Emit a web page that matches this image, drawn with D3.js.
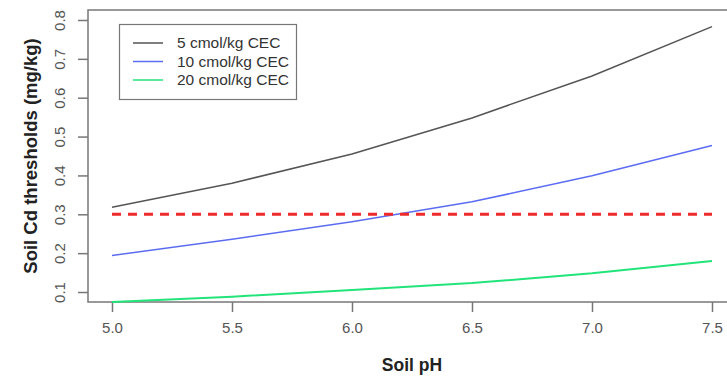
<!DOCTYPE html>
<html>
<head>
<meta charset="utf-8">
<script src="https://cdn.jsdelivr.net/npm/d3@7"></script>
<style>
  body { margin: 0; background: #fff; }
  svg { display: block; font-family: "Liberation Sans", Arial, sans-serif; }
</style>
</head>
<body>
<script>
// soil pH values along x
const ph = [5.0, 5.5, 6.0, 6.5, 7.0, 7.5];

// Cd thresholds for each CEC level
const cec5 = [0.318, 0.380, 0.455, 0.548, 0.656, 0.783];
const cec10 = [0.194, 0.236, 0.281, 0.332, 0.399, 0.477];
const cec20 = [0.074, 0.088, 0.105, 0.123, 0.148, 0.180];

const seriesNames = ["5 cmol/kg CEC", "10 cmol/kg CEC", "20 cmol/kg CEC"];
const seriesColors = ["#555555", "#5b6cf2", "#22e47a"];
const limitValue = 0.3;

const xTicks = [5.0, 5.5, 6.0, 6.5, 7.0, 7.5];
const yTicks = [0.1, 0.2, 0.3, 0.4, 0.5, 0.6, 0.7, 0.8];

const width = 727, height = 382;

const svg = d3.select("body").append("svg")
    .attr("width", width)
    .attr("height", height);

const x = d3.scaleLinear().domain([4.9, 7.6]).range([88, 736]);
const y = d3.scaleLinear().domain([0.0743, 0.8257]).range([302, 10]);

const axisColor = "#777";

// plot frame
svg.append("rect")
    .attr("x", x(4.9))
    .attr("y", y(0.8257))
    .attr("width", x(7.6) - x(4.9))
    .attr("height", y(0.0743) - y(0.8257))
    .attr("fill", "none")
    .attr("stroke", axisColor)
    .attr("stroke-width", 1.5);

// x axis
const xAxis = svg.append("g")
    .attr("transform", `translate(0,${y(0.0743)})`)
    .call(d3.axisBottom(x).tickValues(xTicks).tickFormat(d3.format(".1f")).tickSize(10).tickPadding(10));
xAxis.select(".domain").remove();
xAxis.selectAll("line").attr("stroke", axisColor).attr("stroke-width", 1.5);
xAxis.selectAll("text").attr("fill", "#555").style("font-size", "15px");

// y axis, labels rotated like R
const yAxis = svg.append("g")
    .attr("transform", `translate(${x(4.9)},0)`)
    .call(d3.axisLeft(y).tickValues(yTicks).tickFormat(d3.format(".1f")).tickSize(10));
yAxis.select(".domain").remove();
yAxis.selectAll("line").attr("stroke", axisColor).attr("stroke-width", 1.5);
yAxis.selectAll("text")
    .attr("fill", "#555")
    .style("font-size", "15px")
    .attr("x", null)
    .attr("dy", null)
    .attr("text-anchor", "middle")
    .attr("transform", "translate(-27,0) rotate(-90)")
    .attr("dominant-baseline", "middle");

// axis titles
svg.append("text")
    .attr("x", x(6.25))
    .attr("y", 371)
    .attr("text-anchor", "middle")
    .attr("font-weight", "bold")
    .attr("font-size", 17.5)
    .attr("fill", "#222")
    .text("Soil pH");

svg.append("text")
    .attr("transform", `translate(37,${y(0.45)}) rotate(-90)`)
    .attr("text-anchor", "middle")
    .attr("font-weight", "bold")
    .attr("font-size", 18.5)
    .attr("fill", "#222")
    .text("Soil Cd thresholds (mg/kg)");

// lines
const line = d3.line()
    .x((d, i) => x(ph[i]))
    .y(d => y(d));

[cec5, cec10, cec20].forEach((vals, i) => {
    svg.append("path")
        .datum(vals)
        .attr("fill", "none")
        .attr("stroke", seriesColors[i])
        .attr("stroke-width", i === 2 ? 2 : 1.5)
        .attr("d", line);
});

// threshold line
svg.append("line")
    .attr("x1", x(ph[0]))
    .attr("x2", x(ph[ph.length - 1]))
    .attr("y1", y(limitValue))
    .attr("y2", y(limitValue))
    .attr("stroke", "#ee2a2a")
    .attr("stroke-width", 3)
    .attr("stroke-dasharray", "9,7");

// legend
const legend = svg.append("g");
legend.append("rect")
    .attr("x", 119.5).attr("y", 24.5)
    .attr("width", 177).attr("height", 75)
    .attr("fill", "#fff")
    .attr("stroke", axisColor)
    .attr("stroke-width", 1.2);

seriesNames.forEach((name, i) => {
    const ly = 43 + i * 18.5;
    legend.append("line")
        .attr("x1", 133).attr("x2", 163)
        .attr("y1", ly).attr("y2", ly)
        .attr("stroke", seriesColors[i])
        .attr("stroke-width", 1.5);
    legend.append("text")
        .attr("x", 177).attr("y", ly + 1)
        .attr("dominant-baseline", "middle")
        .attr("font-size", 15.5)
        .attr("fill", "#333")
        .text(name);
});
</script>
</body>
</html>
